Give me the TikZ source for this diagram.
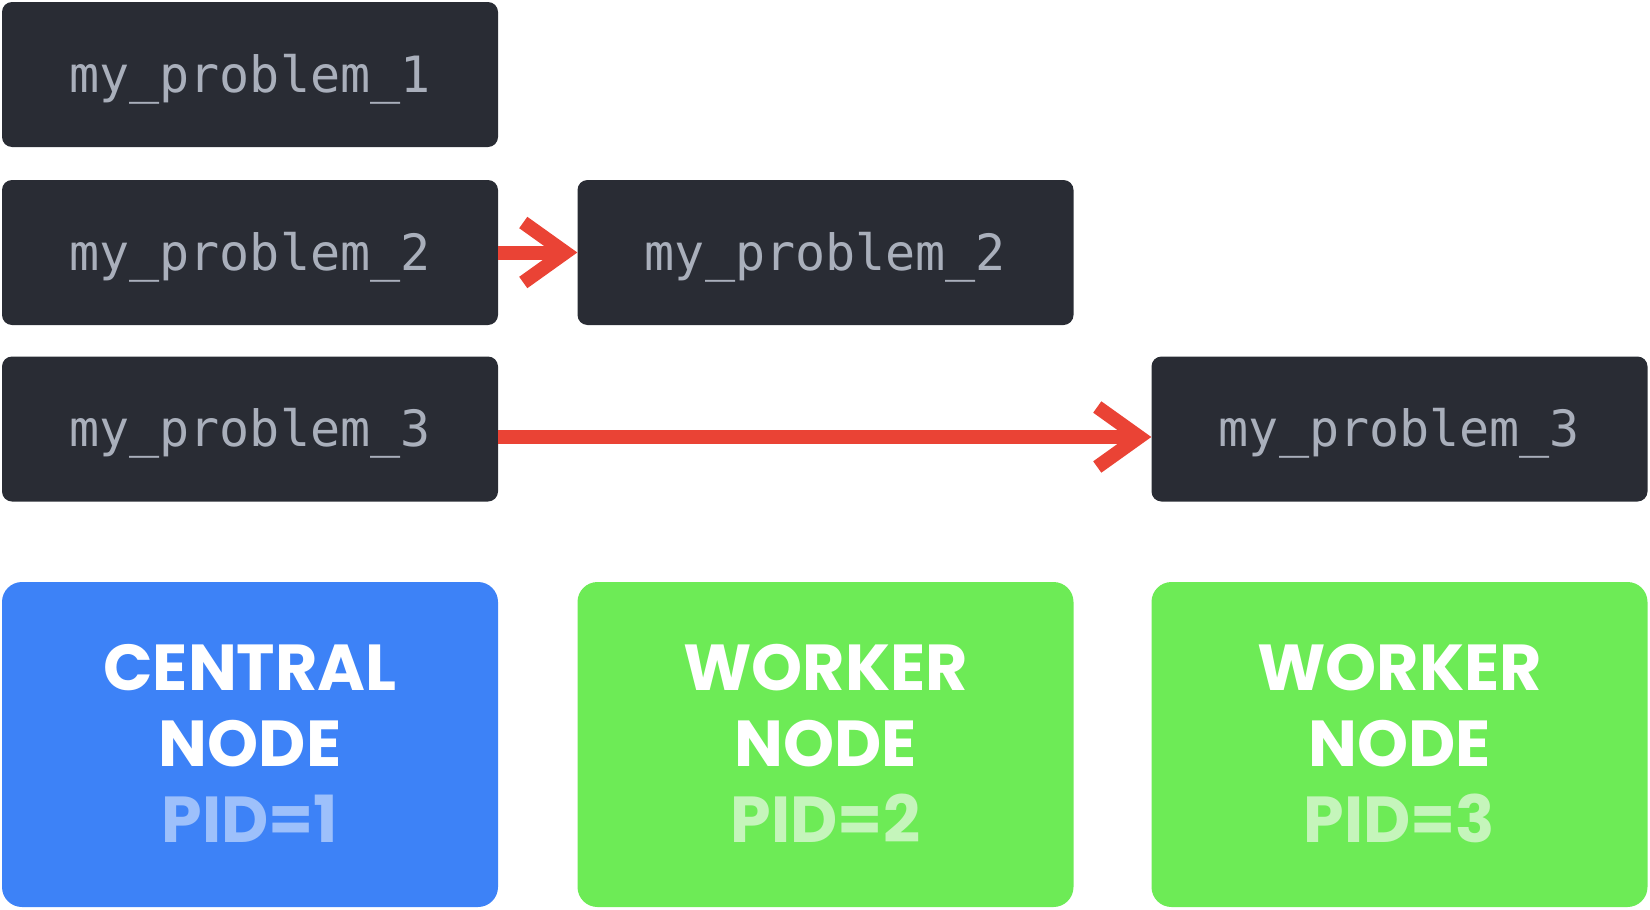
\documentclass[tikz,border=0pt]{standalone}
\usepackage{fontspec}
\usetikzlibrary{arrows.meta}
\newfontfamily\codefont{DejaVu Sans Mono}
\newfontfamily\headfont{Poppins}
\definecolor{boxdark}{HTML}{292C34}
\definecolor{codegrey}{HTML}{A9AFBB}
\definecolor{nodeblue}{HTML}{3D82F7}
\definecolor{pidblue}{HTML}{9DC0FB}
\definecolor{nodegreen}{HTML}{6DEB56}
\definecolor{pidgreen}{HTML}{C5F5BB}
\definecolor{arrowred}{HTML}{EA4335}
\tikzset{
  probbox/.style={fill=boxdark, rounded corners=10pt, minimum width=496pt, minimum height=145pt, inner sep=0pt},
  codetext/.style={text=codegrey, font=\codefont\fontsize{50pt}{60pt}\selectfont, anchor=base, inner sep=0pt},
  procbox/.style={rounded corners=20pt, minimum width=496pt, minimum height=325pt, inner sep=0pt},
  headtext/.style={text=white, font=\headfont\bfseries\fontsize{65pt}{76pt}\selectfont, anchor=base, inner sep=0pt},
  sendarrow/.style={draw=arrowred, line width=14pt, -{Straight Barb[length=42pt, width=60pt]}},
}
\begin{document}
\begin{tikzpicture}[x=1pt,y=-1pt]
\useasboundingbox (0,0) rectangle (1650,910);
% problem boxes
\node[probbox] (p1) at (250,74.5) {};
\node[probbox] (p2) at (250,252.5) {};
\node[probbox] (p3) at (250,429) {};
\node[probbox] (q2) at (825.5,252.5) {};
\node[probbox] (q3) at (1399.5,429) {};
\node[codetext] (t1) at (250,92) {my\_problem\_1};
\node[codetext] (t2) at (250,270) {my\_problem\_2};
\node[codetext] (t3) at (250,446.5) {my\_problem\_3};
\node[codetext] (u2) at (825.5,270) {my\_problem\_2};
\node[codetext] (u3) at (1399.5,446.5) {my\_problem\_3};
% arrows
\draw[sendarrow] (p2.east) -- (q2.west);
\draw[sendarrow] ([yshift=-8pt]p3.east) -- ([yshift=-8pt]q3.west);
% process boxes
\node[procbox, fill=nodeblue] (c) at (250,744.5) {};
\node[procbox, fill=nodegreen] (w2) at (825.5,744.5) {};
\node[procbox, fill=nodegreen] (w3) at (1399.5,744.5) {};
\node[headtext] (c1) at (250,690) {CENTRAL};
\node[headtext] (c2) at (250,766) {NODE};
\node[headtext, text=pidblue] (c3) at (250,842) {PID=1};
\node[headtext] (a1) at (825.5,690) {WORKER};
\node[headtext] (a2) at (825.5,766) {NODE};
\node[headtext, text=pidgreen] (a3) at (825.5,842) {PID=2};
\node[headtext] (b1) at (1399.5,690) {WORKER};
\node[headtext] (b2) at (1399.5,766) {NODE};
\node[headtext, text=pidgreen] (b3) at (1399.5,842) {PID=3};
\end{tikzpicture}
\end{document}
